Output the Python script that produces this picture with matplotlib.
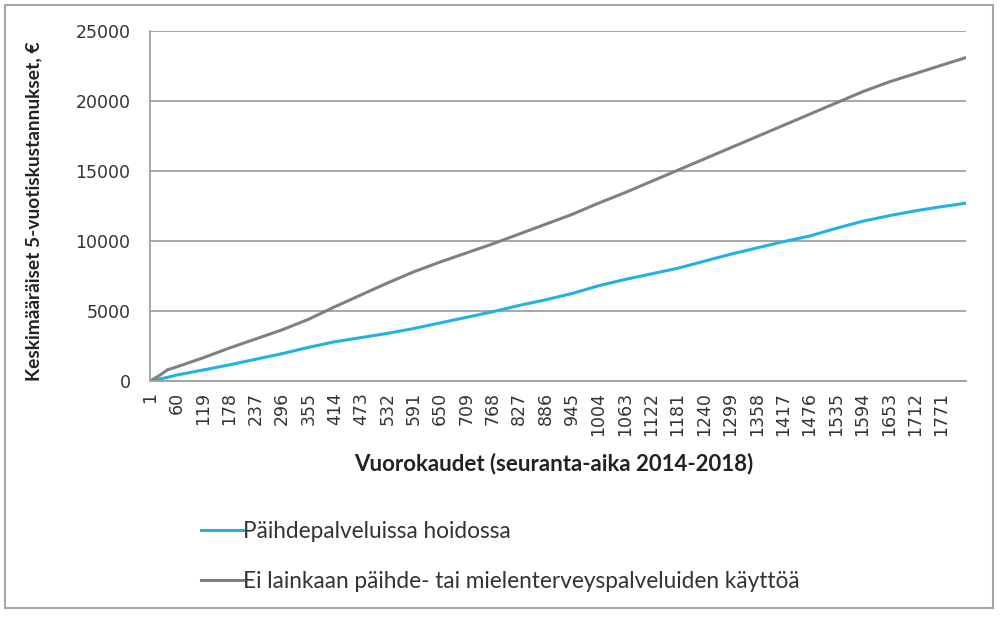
import matplotlib
matplotlib.use("Agg")
import matplotlib.pyplot as plt
from matplotlib.patches import Rectangle

plt.rcParams['font.family'] = ['Lato', 'DejaVu Sans']

# days (category positions 1..1826) and estimated cumulative mean costs
days = [1, 20, 40, 60, 119, 178, 237, 296, 355, 414, 473, 532, 591, 650, 709,
        768, 827, 886, 945, 1004, 1063, 1122, 1181, 1240, 1299, 1358, 1417,
        1476, 1535, 1594, 1653, 1712, 1771, 1826]
hoidossa = [0, 120, 260, 420, 780, 1150, 1550, 1950, 2400, 2800, 3100, 3400,
            3750, 4150, 4550, 4950, 5400, 5800, 6250, 6800, 7250, 7650, 8050,
            8550, 9050, 9500, 9950, 10350, 10900, 11400, 11800, 12150, 12450,
            12700]
ei_kayttoa = [0, 350, 800, 1000, 1650, 2350, 3000, 3650, 4400, 5300, 6150,
              7000, 7800, 8500, 9150, 9800, 10500, 11200, 11900, 12700, 13450,
              14250, 15050, 15850, 16650, 17450, 18250, 19050, 19850, 20650,
              21350, 21950, 22550, 23100]
tick_days = list(range(1, 1827, 59))
labels = ["Päihdepalveluissa hoidossa",
          "Ei lainkaan päihde- tai mielenterveyspalveluiden käyttöä"]

fig = plt.figure(figsize=(10.03, 6.17), dpi=100)
ax = fig.add_axes([0.1496, 0.3825, 0.8135, 0.5673])

ax.plot(days, hoidossa, color="#23b2e0", lw=2.2, label=labels[0])
ax.plot(days, ei_kayttoa, color="#808080", lw=2.2, label=labels[1])

ax.set_xlim(1, 1826)
ax.set_ylim(0, 25000)
ax.set_yticks(range(0, 25001, 5000))
ax.set_xticks(tick_days)
ax.set_xticklabels([str(d) for d in tick_days], rotation=90,
                   family="DejaVu Sans")
ax.set_yticklabels([str(v) for v in range(0, 25001, 5000)],
                   family="DejaVu Sans")
ax.tick_params(axis="x", length=0, pad=8, labelsize=12.5, colors="#333333")
ax.tick_params(axis="y", length=0, pad=14, labelsize=12.5, colors="#333333")
ax.grid(axis="y", color="#a0a0a0", lw=1.3)
ax.set_axisbelow(True)
for s in ["top", "right"]:
    ax.spines[s].set_visible(False)
for s in ["left", "bottom"]:
    ax.spines[s].set_color("#a0a0a0")
    ax.spines[s].set_linewidth(1.3)

ax.set_ylabel("Keskimääräiset 5-vuotiskustannukset, €", fontsize=13.8,
              fontweight="bold", color="#222222")
ax.yaxis.set_label_coords(-0.132, 0.485)
ax.set_xlabel("Vuorokaudet (seuranta-aika 2014-2018)", fontsize=16,
              fontweight="bold", color="#222222")
ax.xaxis.set_label_coords(0.495, -0.205)

ax.legend(loc="upper left", bbox_to_anchor=(190 / 1003, 1 - 510 / 617),
          bbox_transform=fig.transFigure, frameon=False, fontsize=16.3,
          borderpad=0, handlelength=1.85, handletextpad=0.0,
          labelspacing=1.25, labelcolor="#333333")

fig.add_artist(Rectangle((5 / 1003, 9 / 617), 988 / 1003, 603 / 617,
                         transform=fig.transFigure, fill=False,
                         edgecolor="#a6a6a6", lw=1.5))

fig.savefig("out.png", dpi=100)
